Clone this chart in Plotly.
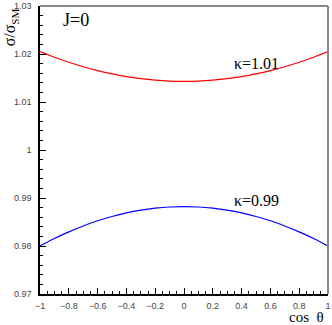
import plotly.graph_objects as go

cos_theta = [-1.0, -0.9, -0.8, -0.7, -0.6, -0.5, -0.4, -0.3, -0.2, -0.1, 0.0,
             0.1, 0.2, 0.3, 0.4, 0.5, 0.6, 0.7, 0.8, 0.9, 1.0]
ratio_k101 = [1.02050, 1.01932, 1.01827, 1.01734, 1.01653, 1.01585, 1.01529, 1.01486, 1.01455, 1.01436, 1.01430,
              1.01436, 1.01455, 1.01486, 1.01529, 1.01585, 1.01653, 1.01734, 1.01827, 1.01932, 1.02050]
ratio_k099 = [0.98000, 0.98156, 0.98295, 0.98418, 0.98525, 0.98615, 0.98689, 0.98746, 0.98787, 0.98812, 0.98820,
              0.98812, 0.98787, 0.98746, 0.98689, 0.98615, 0.98525, 0.98418, 0.98295, 0.98156, 0.98000]

x_ticks = [-1, -0.8, -0.6, -0.4, -0.2, 0, 0.2, 0.4, 0.6, 0.8, 1]
x_tick_labels = ["\u22121", "\u22120.8", "\u22120.6", "\u22120.4", "\u22120.2", "0", "0.2", "0.4", "0.6", "0.8", "1"]
y_ticks = [0.97, 0.98, 0.99, 1.0, 1.01, 1.02, 1.03]
y_tick_labels = ["0.97", "0.98", "0.99", "1", "1.01", "1.02", "1.03"]

fig = go.Figure()
fig.add_trace(go.Scatter(x=cos_theta, y=ratio_k101, mode="lines", line=dict(color="#ff0000", width=1.2, shape="spline", smoothing=1.0), showlegend=False))
fig.add_trace(go.Scatter(x=cos_theta, y=ratio_k099, mode="lines", line=dict(color="#0000ff", width=1.2, shape="spline", smoothing=1.0), showlegend=False))

serif = "Liberation Serif, Times New Roman, serif"
sans = "Liberation Sans, Arial, sans-serif"

fig.update_layout(
    width=332, height=325, autosize=False,
    margin=dict(l=40, r=1, t=4, b=31),
    paper_bgcolor="white", plot_bgcolor="white",
    xaxis=dict(range=[-1, 1], tickvals=x_ticks, ticktext=x_tick_labels,
               ticks="inside", ticklen=6, tickcolor="black", tickwidth=1,
               minor=dict(dtick=0.05, tick0=-1, ticks="inside", ticklen=3, tickcolor="black"),
               showline=True, linecolor="black", linewidth=1.5, showgrid=False, zeroline=False,
               tickfont=dict(family=sans, size=9, color="#444"), ticklabelstandoff=2,
               ticklabeloverflow="allow"),
    yaxis=dict(range=[0.97, 1.03], tickvals=y_ticks, ticktext=y_tick_labels,
               ticks="inside", ticklen=6, tickcolor="black", tickwidth=1,
               minor=dict(dtick=0.002, tick0=0.97, ticks="inside", ticklen=3, tickcolor="black"),
               showline=True, linecolor="black", linewidth=1.5, showgrid=False, zeroline=False,
               tickfont=dict(family=sans, size=9, color="#444"), ticklabelstandoff=5,
               ticklabeloverflow="allow"),
    shapes=[
        dict(type="line", xref="paper", yref="paper", x0=0, x1=1, y0=1, y1=1, line=dict(color="#888", width=2)),
        dict(type="line", xref="paper", yref="paper", x0=1, x1=1, y0=0, y1=1, line=dict(color="#888", width=2)),
    ],
    annotations=[
        dict(text="J=0", xref="paper", yref="paper", x=0.072, y=0.95, xanchor="left", yanchor="middle",
             showarrow=False, font=dict(family=serif, size=18, color="black")),
        dict(text="\u03ba=1.01", xref="x", yref="y", x=0.5, y=1.0181, xanchor="center", yanchor="middle",
             showarrow=False, font=dict(family=serif, size=16, color="black")),
        dict(text="\u03ba=0.99", xref="x", yref="y", x=0.5, y=0.9894, xanchor="center", yanchor="middle",
             showarrow=False, font=dict(family=serif, size=16, color="black")),
        dict(text="cos  \u03b8", xref="paper", yref="paper", x=0.925, y=-0.08, xanchor="center", yanchor="middle",
             showarrow=False, font=dict(family=serif, size=15, color="black")),
        dict(text="\u03c3/\u03c3<sub>SM</sub>", xref="paper", yref="paper", x=-0.103, y=1.0, xanchor="center", yanchor="top",
             textangle=-90, showarrow=False, font=dict(family=serif, size=16, color="black")),
    ],
)

fig.write_html("out.html", config={"displayModeBar": False},
               post_script="document.body.style.margin='0';document.body.style.padding='0';")
